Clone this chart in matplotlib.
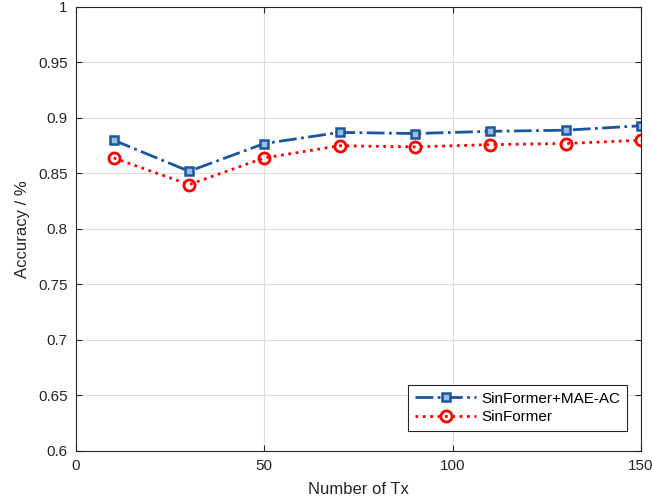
# -*- coding: utf-8 -*-

# Accuracy vs number of Tx

import matplotlib.pyplot as plt

plt.rcParams['font.family'] = ['Liberation Sans', 'DejaVu Sans']

num_tx = [10, 30, 50, 70, 90, 110, 130, 150]
acc_mae = [0.880, 0.852, 0.877, 0.887, 0.886, 0.888, 0.889, 0.893]
acc_base = [0.864, 0.840, 0.864, 0.875, 0.874, 0.876, 0.877, 0.880]

x_ticks = [0, 50, 100, 150]
y_ticks = [0.6, 0.65, 0.7, 0.75, 0.8, 0.85, 0.9, 0.95, 1]
y_labels = ['0.6', '0.65', '0.7', '0.75', '0.8', '0.85', '0.9', '0.95', '1']

fig = plt.figure(figsize=(6.52, 5.03), dpi=100)
ax = fig.add_axes([0.1166, 0.1034, 0.8665, 0.8827])

ax.plot(num_tx, acc_mae, linestyle='-.', color='#1a55a0', linewidth=2,
        marker='s', markersize=6, markerfacecolor='#9bbbe0',
        markeredgewidth=1.8, label='SinFormer+MAE-AC')
ax.plot(num_tx, acc_base, linestyle=':', color='#ff0000', linewidth=2,
        marker='o', markersize=8, markerfacecolor='none',
        markeredgewidth=2, label='SinFormer')

ax.set_xlim(0, 150)
ax.set_ylim(0.6, 1)
ax.set_xticks(x_ticks)
ax.set_yticks(y_ticks)
ax.set_yticklabels(y_labels)
ax.tick_params(direction='in', length=4, labelsize=11, colors='#262626',
               top=True, right=True, pad=6)
ax.grid(True, color='#dcdcdc', linewidth=0.8)
ax.set_axisbelow(True)
for s in ax.spines.values():
    s.set_color('#262626')
    s.set_linewidth(0.8)

ax.set_xlabel('Number of Tx', fontsize=12, color='#262626', labelpad=6)
ax.set_ylabel('Accuracy / %', fontsize=12, color='#262626', labelpad=6)

leg = ax.legend(loc='lower right', bbox_to_anchor=(0.975, 0.045), fontsize=11,
                fancybox=False, edgecolor='#262626', framealpha=1,
                handlelength=4.0, borderpad=0.45, labelspacing=0.3,
                handletextpad=0.3, borderaxespad=0)
leg.get_frame().set_linewidth(0.8)

fig.savefig('out.png')
